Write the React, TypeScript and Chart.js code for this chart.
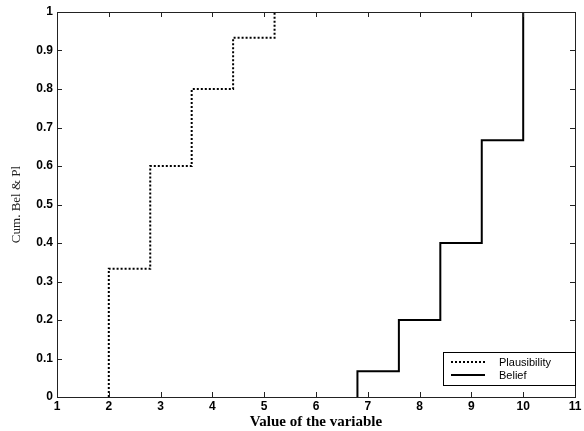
import React, { useEffect, useRef } from "react";
import { Chart, registerables } from "chart.js";

Chart.register(...registerables);

// Plausibility: cumulative step function
const plausX = [2, 2, 2.8, 3.6, 4.4, 5.2];
const plausY = [0, 0.333, 0.6, 0.8, 0.933, 1];
// Belief: cumulative step function
const belX = [6.8, 6.8, 7.6, 8.4, 9.2, 10];
const belY = [0, 0.067, 0.2, 0.4, 0.667, 1];

const xTicks = [1, 2, 3, 4, 5, 6, 7, 8, 9, 10, 11];
const yTicks = [0, 0.1, 0.2, 0.3, 0.4, 0.5, 0.6, 0.7, 0.8, 0.9, 1];

const seriesNames = ["Plausibility", "Belief"];

const framePlugin = {
  id: "frameTicks",
  afterDatasetsDraw(chart: any) {
    const { ctx, chartArea, scales } = chart;
    const { left, right, top, bottom } = chartArea;
    ctx.save();
    ctx.strokeStyle = "#222";
    ctx.lineWidth = 1;
    ctx.setLineDash([]);
    ctx.strokeRect(left + 0.5, top + 0.5, right - left, bottom - top);
    const L = 5;
    ctx.beginPath();
    for (const v of xTicks) {
      const px = Math.round(scales.x.getPixelForValue(v)) + 0.5;
      ctx.moveTo(px, bottom);
      ctx.lineTo(px, bottom - L);
      ctx.moveTo(px, top);
      ctx.lineTo(px, top + L);
    }
    for (const v of yTicks) {
      const py = Math.round(scales.y.getPixelForValue(v)) + 0.5;
      ctx.moveTo(left, py);
      ctx.lineTo(left + L, py);
      ctx.moveTo(right, py);
      ctx.lineTo(right - L, py);
    }
    ctx.stroke();

    // legend box
    const bw = 132, bh = 33;
    const bx = right - bw, by = bottom - 12 - bh;
    ctx.fillStyle = "#fff";
    ctx.fillRect(bx, by, bw, bh);
    ctx.strokeStyle = "#000";
    ctx.strokeRect(bx + 0.5, by + 0.5, bw, bh);
    const ds = chart.data.datasets;
    ds.forEach((d: any, i: number) => {
      const y = by + 10 + i * 13;
      ctx.beginPath();
      ctx.strokeStyle = "#000";
      ctx.lineWidth = d.borderWidth;
      ctx.setLineDash(d.borderDash || []);
      ctx.moveTo(bx + 8, y);
      ctx.lineTo(bx + 42, y);
      ctx.stroke();
      ctx.setLineDash([]);
      ctx.fillStyle = "#000";
      ctx.font = "11px 'Liberation Sans', Arial, sans-serif";
      ctx.textBaseline = "middle";
      ctx.textAlign = "left";
      ctx.fillText(d.label, bx + 56, y + 1);
    });
    ctx.restore();
  },
};

export default function App() {
  const ref = useRef<HTMLCanvasElement | null>(null);
  useEffect(() => {
    if (!ref.current) return;
    const chart = new Chart(ref.current, {
      type: "line",
      data: {
        datasets: [
          {
            label: seriesNames[0],
            data: plausX.map((x, i) => ({ x, y: plausY[i] })),
            borderColor: "#000",
            borderWidth: 2,
            borderDash: [2, 2],
            stepped: "before",
            pointRadius: 0,
            fill: false,
          },
          {
            label: seriesNames[1],
            data: belX.map((x, i) => ({ x, y: belY[i] })),
            borderColor: "#000",
            borderWidth: 2,
            stepped: "before",
            pointRadius: 0,
            fill: false,
          },
        ],
      },
      options: {
        animation: false,
        responsive: false,
        maintainAspectRatio: false,
        layout: { padding: { top: 12, right: 9, left: 0, bottom: 0 } },
        plugins: { legend: { display: false }, tooltip: { enabled: false } },
        scales: {
          x: {
            type: "linear",
            min: 1,
            max: 11,
            afterBuildTicks: (s: any) => {
              s.ticks = xTicks.map((v) => ({ value: v }));
            },
            afterFit: (s: any) => {
              s.height = 34;
            },
            grid: { display: false, drawTicks: false },
            border: { display: false },
            ticks: {
              padding: 2,
              color: "#000",
              font: { family: "'Liberation Sans', Arial, sans-serif", size: 12, weight: "bold" },
              maxRotation: 0,
              autoSkip: false,
            },
            title: {
              display: true,
              text: "Value of the variable",
              color: "#000",
              padding: { top: 0, bottom: 0 },
              font: { family: "'Liberation Serif', 'Times New Roman', serif", size: 15, weight: "bold" },
            },
          },
          y: {
            type: "linear",
            min: 0,
            max: 1,
            afterBuildTicks: (s: any) => {
              s.ticks = yTicks.map((v) => ({ value: v }));
            },
            afterFit: (s: any) => {
              s.width = 57;
            },
            grid: { display: false, drawTicks: false },
            border: { display: false },
            ticks: {
              padding: 4,
              color: "#000",
              font: { family: "'Liberation Sans', Arial, sans-serif", size: 12, weight: "bold" },
              callback: (v: any) => String(Number(Number(v).toFixed(1))),
              autoSkip: false,
            },
            title: {
              display: true,
              text: "Cum. Bel & Pl",
              color: "#222",
              padding: { top: 9, bottom: 0 },
              font: { family: "'Liberation Serif', 'Times New Roman', serif", size: 13 },
            },
          },
        },
      },
      plugins: [framePlugin],
    });
    return () => chart.destroy();
  }, []);
  return (
    <div style={{ position: "fixed", left: 0, top: 0, width: 584, height: 431, background: "#fff" }}>
      <canvas ref={ref} width={584} height={431} style={{ display: "block" }} />
    </div>
  );
}
